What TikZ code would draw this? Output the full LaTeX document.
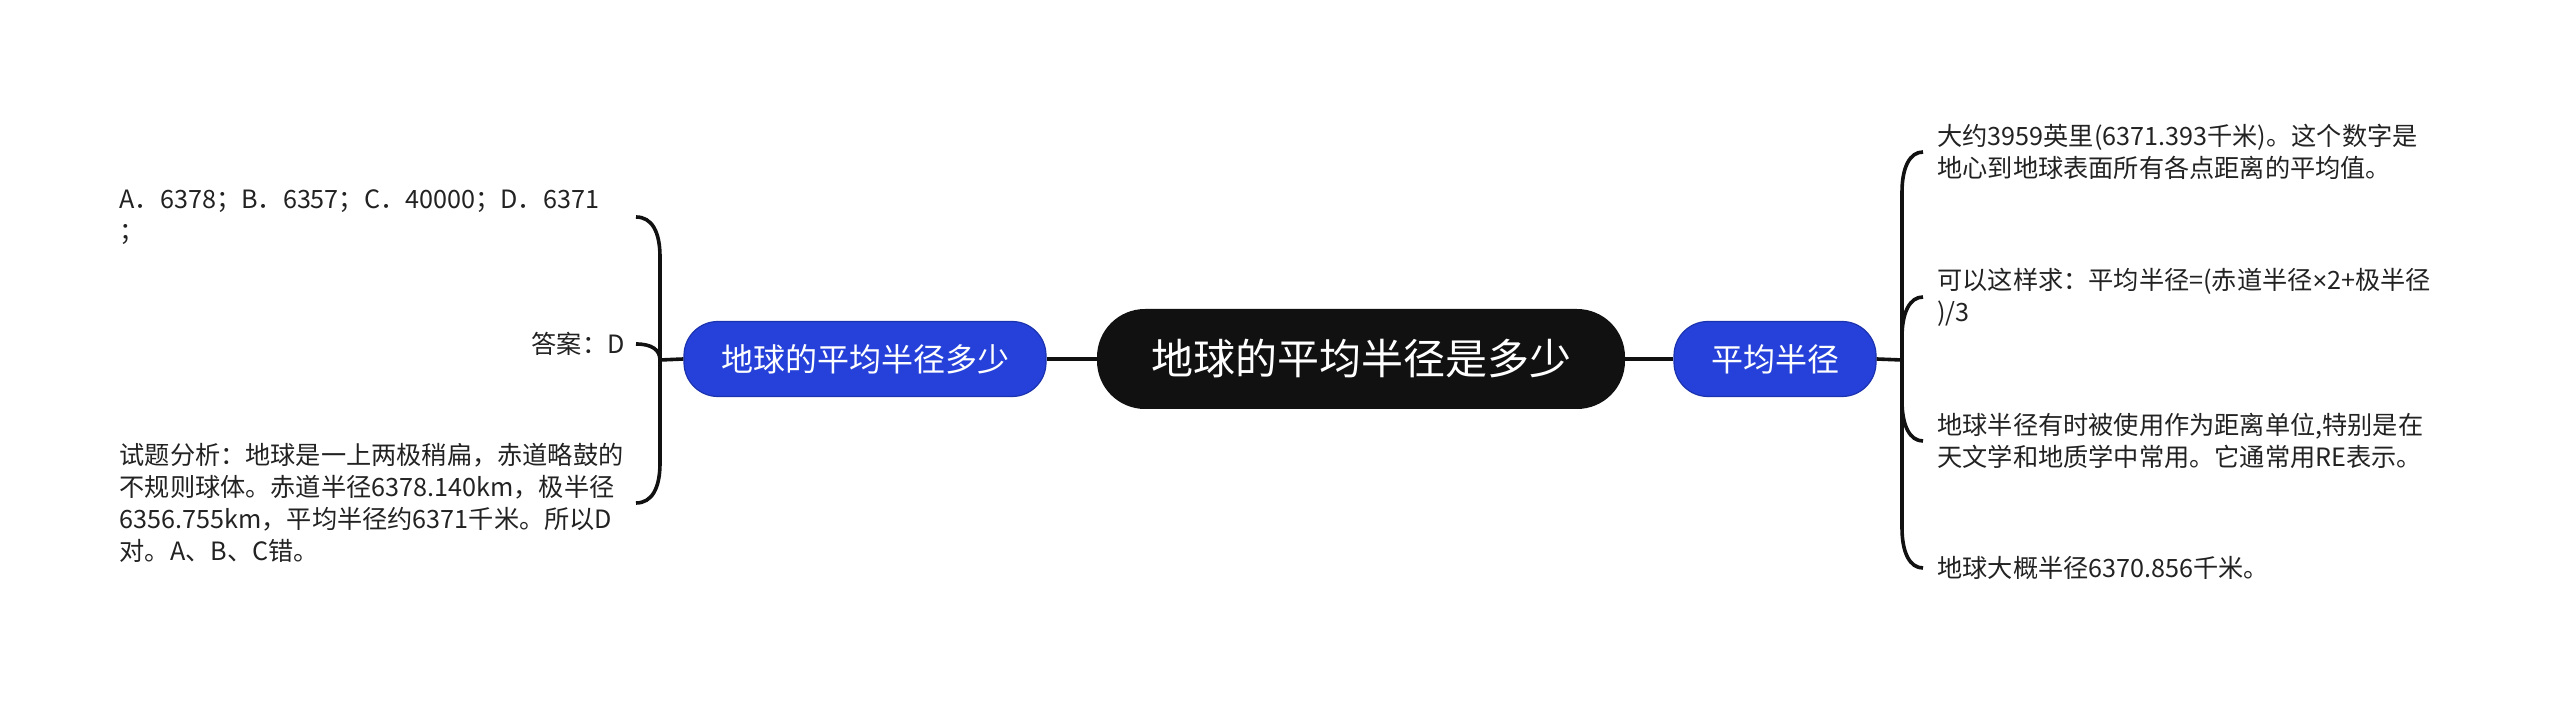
\documentclass[tikz,border=0pt]{standalone}
\usepackage{fontspec}
\setmainfont{Noto Sans CJK SC}
\newfontfamily\latinfont{Liberation Sans}
\definecolor{rootblack}{HTML}{111111}
\definecolor{topicblue}{HTML}{2541D9}
\definecolor{topicedge}{HTML}{1C33B0}
\definecolor{leafgray}{HTML}{222222}

\begin{document}
\begin{tikzpicture}[x=0.5pt, y=-0.5pt,
    centre/.style={fill=rootblack, text=white, rounded corners=24pt,
        minimum height=50pt, inner xsep=27pt,
        font=\fontsize{21pt}{25pt}\selectfont},
    topic/.style={fill=topicblue, draw=topicedge, line width=0.6pt,
        text=white, rounded corners=17pt, minimum height=37.5pt,
        inner xsep=18.5pt, font=\fontsize{16pt}{19pt}\selectfont},
    leaf/.style={text=leafgray, align=left, inner ysep=2pt,
        font=\fontsize{12.6pt}{16pt}\selectfont},
    link/.style={draw=rootblack, line width=1.8pt}]
    \useasboundingbox (0,0) rectangle (2560,704);

    % Central topic and its two branches
    \node[centre] (root) at (1361,359) {地球的平均半径是多少};
    \node[topic] (qtopic) at (865,359) {地球的平均半径多少};
    \node[topic] (rtopic) at (1775,359) {平均半径};

    % Junctions of the braces
    \coordinate (jl) at (660,360);
    \coordinate (jr) at (1902,360);

    % Left leaves
    \node[leaf, anchor=east, text width=256pt, inner xsep=2pt] (l1) at (636,217)
        {A．6378；B．6357；C．40000；D．6371\\；};
    \node[leaf, anchor=east, inner xsep=5.5pt] (l2) at (636,344) {答案：D};
    \node[leaf, anchor=east, text width=256pt, inner xsep=2pt] (l3) at (636,503)
        {试题分析：地球是一上两极稍扁，赤道略鼓的\\不规则球体。赤道半径6378.140km，极半径\\6356.755km，平均半径约6371千米。所以D\\对。A、B、C错。};

    % Right leaves
    \node[leaf, anchor=west, inner xsep=7pt] (r1) at (1923,152)
        {大约3959英里(6371.393千米)。这个数字是\\地心到地球表面所有各点距离的平均值。};
    \node[leaf, anchor=west, inner xsep=7pt] (r2) at (1923,297)
        {可以这样求：平均半径=(赤道半径{\latinfont ×}2+极半径\\)/3};
    \node[leaf, anchor=west, inner xsep=7pt] (r3) at (1923,441)
        {地球半径有时被使用作为距离单位,特别是在\\天文学和地质学中常用。它通常用RE表示。};
    \node[leaf, anchor=west, inner xsep=7pt] (r4) at (1923,568)
        {地球大概半径6370.856千米。};

    % Main links
    \draw[link] (root) -- (qtopic);
    \draw[link] (root) -- (rtopic);
    \draw[link] (qtopic.west) -- (jl);
    \draw[link] (rtopic.east) -- (jr);

    % Left brace
    \draw[link] (jl) -- (660,257) .. controls (660,232) and (652,217) .. (l1.east);
    \draw[link] (jl) .. controls (660,350) and (652,344) .. (l2.east);
    \draw[link] (jl) -- (660,463) .. controls (660,488) and (652,503) .. (l3.east);

    % Right brace
    \draw[link] (jr) -- (1902,192) .. controls (1902,167) and (1910,152) .. (r1.west);
    \draw[link] (jr) -- (1902,337) .. controls (1902,312) and (1910,297) .. (r2.west);
    \draw[link] (jr) -- (1902,401) .. controls (1902,426) and (1910,441) .. (r3.west);
    \draw[link] (jr) -- (1902,528) .. controls (1902,553) and (1910,568) .. (r4.west);
\end{tikzpicture}
\end{document}
